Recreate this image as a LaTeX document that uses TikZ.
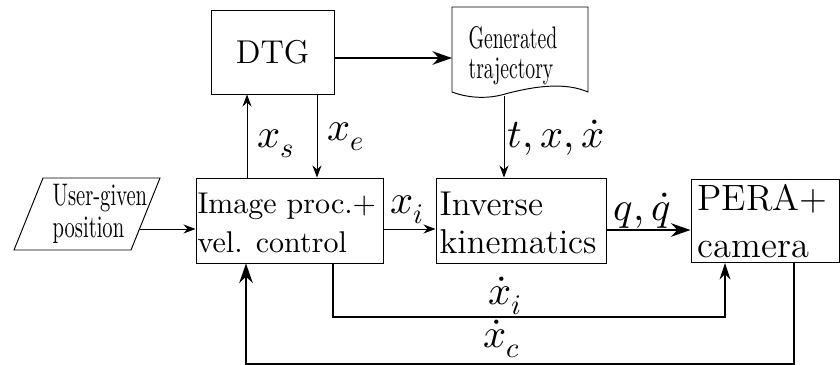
\documentclass[tikz,border=0pt]{standalone}
\usepackage{fontspec}
\usepackage{unicode-math}
\usetikzlibrary{arrows.meta}
\begin{document}
\begin{tikzpicture}[x=0.33333pt,y=-0.33333pt,
  box/.style={draw, line width=0.32pt, inner sep=0pt, anchor=center},
  txt/.style={inner sep=0pt, anchor=base west},
  thinarr/.style={line width=0.32pt, -{Stealth[length=4pt,width=3pt]}},
  midarr/.style={line width=0.4pt, -{Stealth[length=5.5pt,width=3.6pt]}},
  thickarr/.style={line width=0.7pt, -{Stealth[length=6.5pt,width=4.5pt]}},
  lbl/.style={font=\fontsize{13.5}{15}\selectfont, inner sep=0pt, anchor=base west}]
\useasboundingbox (0,0) rectangle (840,365);
% boxes
\node[box, minimum width=41pt, minimum height=28pt, font=\fontsize{11}{13}\selectfont] (dtg) at (272.5,52) {DTG};
\node[box, minimum width=62.33pt, minimum height=28.33pt] (img) at (289.5,220.5) {};
\node[txt, font=\fontsize{10}{13}\selectfont] (imgt) at (197,213) {\begin{tabular}[t]{@{}l@{}}Image proc.+\\vel. control\end{tabular}};
\node[box, minimum width=56.67pt, minimum height=28.33pt] (ik) at (521,220.5) {};
\node[txt, font=\fontsize{11.5}{12.7}\selectfont] (ikt) at (439,215) {\begin{tabular}[t]{@{}l@{}}Inverse\\kinematics\end{tabular}};
\node[box, minimum width=49.5pt, minimum height=27.83pt] (pera) at (765.25,220.75) {};
\node[txt, font=\fontsize{12.2}{15.7}\selectfont] (perat) at (697,210) {\begin{tabular}[t]{@{}l@{}}PERA+\\camera\end{tabular}};
% user-given parallelogram
\draw[line width=0.32pt] (43,178) -- (160,178) -- (131,250) -- (14,250) -- cycle;
\node[txt] (ug) at (52,205) {\scalebox{0.66}[1]{\fontsize{10.4}{10.7}\selectfont\begin{tabular}[t]{@{}l@{}}User-given\\position\end{tabular}}};
\coordinate (ugout) at (139.5,229);
% generated trajectory document
\draw[line width=0.32pt] (452,7) -- (588,7) -- (588,92)
  .. controls (565,82) and (535,86) .. (505,94)
  .. controls (485,100) and (465,97) .. (452,92) -- cycle;
\node[txt] (gt) at (468,48) {\scalebox{0.63}[1]{\fontsize{10.4}{10}\selectfont\begin{tabular}[t]{@{}l@{}}Generated\\trajectory\end{tabular}}};
\coordinate (gtin) at (452,58);
\coordinate (gtout) at (504,96);
% connectors
\draw[thickarr] (dtg.east |- gtin) -- (gtin);
\draw[thinarr] (gtout) -- (gtout |- ik.north);
\draw[thinarr] (img.north -| 247,0) -- (dtg.south -| 247,0);
\draw[thinarr] (dtg.south -| 317,0) -- (img.north -| 317,0);
\draw[thinarr] (ugout) -- (ugout -| img.west);
\draw[thinarr] (img.east |- 0,229) -- (ik.west |- 0,229);
\draw[thickarr] (ik.east |- 0,230) -- (pera.west |- 0,230);
\draw[midarr] (img.south -| 333,0) -- (333,317) -- (725,317) -- (pera.south -| 725,0);
\draw[thickarr] (pera.south -| 794,0) -- (794,364.3) -- (246,364.3) -- (img.south -| 246,0);
% labels
\node[lbl] (lxs) at (257,147) {$x_s$};
\node[lbl] (lxe) at (327,140) {$x_e$};
\node[lbl] (ltx) at (507,147) {$t,x,\dot x$};
\node[lbl] (lxi) at (390,213) {$x_i$};
\node[lbl] (lq) at (613,220) {$q,\dot q$};
\node[lbl] (ldxi) at (488,304) {$\dot x_i$};
\node[lbl] (ldxc) at (483,347) {$\dot x_c$};
\end{tikzpicture}
\end{document}
